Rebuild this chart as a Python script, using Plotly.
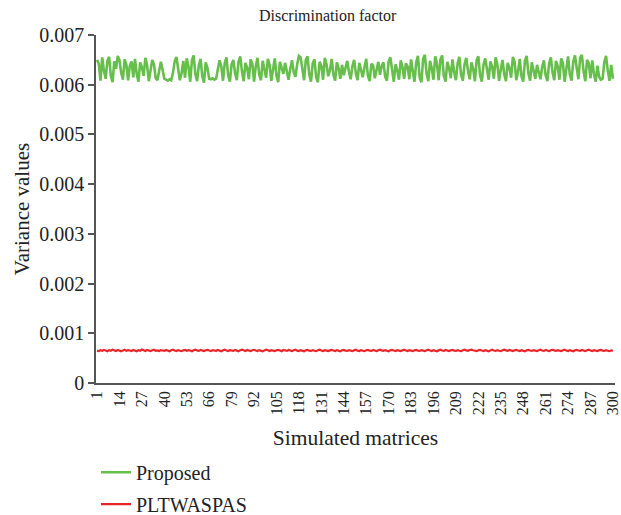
import plotly.graph_objects as go

title_text = "Discrimination factor"
x_title = "Simulated matrices"
y_title = "Variance values"
series_names = ["Proposed", "PLTWASPAS"]

matrices = list(range(1, 301))
x_tick_labels = list(range(1, 301, 13))
y_tick_values = [0, 0.001, 0.002, 0.003, 0.004, 0.005, 0.006, 0.007]

proposed = [
    0.00650,0.00642,0.00608,0.00655,0.00628,0.00612,0.00648,0.00656,0.00618,0.00605,0.00647,0.00632,0.00658,0.00649,0.00624,0.00610,0.00651,0.00640,0.00609,0.00638,
    0.00647,0.00615,0.00652,0.00622,0.00606,0.00645,0.00635,0.00618,0.00654,0.00639,0.00607,0.00628,0.00650,0.00641,0.00613,0.00609,0.00625,0.00646,0.00630,0.00612,
    0.00610,0.00608,0.00611,0.00609,0.00624,0.00647,0.00656,0.00630,0.00609,0.00623,0.00648,0.00614,0.00653,0.00636,0.00606,0.00649,0.00659,0.00621,0.00607,0.00639,
    0.00652,0.00617,0.00604,0.00645,0.00633,0.00612,0.00611,0.00613,0.00610,0.00612,0.00628,0.00649,0.00637,0.00608,0.00643,0.00655,0.00619,0.00606,0.00641,0.00650,
    0.00623,0.00609,0.00646,0.00657,0.00627,0.00607,0.00644,0.00634,0.00611,0.00651,0.00642,0.00606,0.00637,0.00654,0.00620,0.00609,0.00648,0.00631,0.00614,0.00652,
    0.00640,0.00608,0.00629,0.00653,0.00618,0.00605,0.00646,0.00636,0.00622,0.00644,0.00627,0.00610,0.00632,0.00649,0.00625,0.00616,0.00641,0.00658,0.00655,0.00630,
    0.00609,0.00650,0.00657,0.00621,0.00606,0.00643,0.00651,0.00615,0.00605,0.00646,0.00638,0.00610,0.00654,0.00641,0.00617,0.00629,0.00652,0.00620,0.00608,0.00645,
    0.00633,0.00612,0.00640,0.00619,0.00631,0.00648,0.00626,0.00611,0.00637,0.00650,0.00623,0.00609,0.00644,0.00628,0.00615,0.00635,0.00652,0.00618,0.00607,0.00642,
    0.00639,0.00613,0.00631,0.00646,0.00620,0.00638,0.00645,0.00616,0.00608,0.00647,0.00655,0.00624,0.00606,0.00641,0.00629,0.00610,0.00649,0.00636,0.00612,0.00643,
    0.00637,0.00611,0.00651,0.00627,0.00606,0.00645,0.00658,0.00614,0.00605,0.00652,0.00660,0.00622,0.00607,0.00648,0.00633,0.00610,0.00657,0.00642,0.00609,0.00650,
    0.00659,0.00618,0.00606,0.00646,0.00634,0.00613,0.00651,0.00625,0.00609,0.00643,0.00656,0.00620,0.00608,0.00641,0.00654,0.00628,0.00611,0.00645,0.00632,0.00607,
    0.00649,0.00657,0.00619,0.00606,0.00640,0.00653,0.00626,0.00610,0.00647,0.00636,0.00612,0.00655,0.00641,0.00608,0.00630,0.00650,0.00621,0.00607,0.00644,0.00634,
    0.00614,0.00656,0.00646,0.00609,0.00627,0.00652,0.00617,0.00606,0.00648,0.00658,0.00623,0.00608,0.00645,0.00631,0.00612,0.00640,0.00628,0.00611,0.00636,0.00649,
    0.00619,0.00607,0.00642,0.00655,0.00625,0.00609,0.00648,0.00637,0.00610,0.00653,0.00644,0.00606,0.00632,0.00657,0.00621,0.00608,0.00646,0.00659,0.00634,0.00611,
    0.00654,0.00660,0.00627,0.00607,0.00650,0.00643,0.00613,0.00649,0.00622,0.00606,0.00638,0.00616,0.00610,0.00612,0.00645,0.00658,0.00629,0.00608,0.00640,0.00612,
]

pltwaspas = [
    0.000652,0.000641,0.000660,0.000648,0.000667,0.000655,0.000640,0.000662,0.000650,0.000671,0.000658,0.000643,0.000664,0.000651,0.000638,0.000656,0.000669,0.000647,0.000660,0.000653,
    0.000644,0.000666,0.000657,0.000639,0.000661,0.000650,0.000672,0.000659,0.000645,0.000663,0.000652,0.000641,0.000658,0.000668,0.000649,0.000656,0.000642,0.000661,0.000654,0.000646,
    0.000665,0.000651,0.000638,0.000659,0.000670,0.000655,0.000644,0.000662,0.000650,0.000640,0.000657,0.000666,0.000648,0.000661,0.000653,0.000639,0.000660,0.000671,0.000656,0.000645,
    0.000663,0.000650,0.000642,0.000658,0.000667,0.000652,0.000641,0.000662,0.000655,0.000647,0.000664,0.000651,0.000639,0.000657,0.000669,0.000654,0.000643,0.000660,0.000652,0.000646,
    0.000666,0.000655,0.000640,0.000661,0.000672,0.000658,0.000645,0.000663,0.000650,0.000641,0.000659,0.000668,0.000653,0.000644,0.000662,0.000651,0.000638,0.000656,0.000670,0.000657,
    0.000644,0.000661,0.000650,0.000642,0.000658,0.000667,0.000654,0.000640,0.000663,0.000652,0.000646,0.000664,0.000656,0.000641,0.000659,0.000669,0.000650,0.000643,0.000661,0.000653,
    0.000639,0.000657,0.000666,0.000651,0.000645,0.000662,0.000655,0.000640,0.000658,0.000670,0.000653,0.000644,0.000660,0.000649,0.000641,0.000656,0.000667,0.000654,0.000642,0.000661,
    0.000650,0.000638,0.000659,0.000664,0.000652,0.000645,0.000661,0.000655,0.000641,0.000657,0.000668,0.000651,0.000643,0.000662,0.000653,0.000640,0.000658,0.000666,0.000650,0.000646,
    0.000663,0.000654,0.000641,0.000660,0.000671,0.000656,0.000645,0.000662,0.000651,0.000639,0.000658,0.000667,0.000653,0.000644,0.000661,0.000650,0.000642,0.000657,0.000669,0.000655,
    0.000643,0.000660,0.000652,0.000640,0.000659,0.000666,0.000649,0.000645,0.000662,0.000654,0.000641,0.000658,0.000670,0.000655,0.000644,0.000661,0.000651,0.000639,0.000656,0.000668,
    0.000653,0.000646,0.000663,0.000650,0.000642,0.000659,0.000667,0.000652,0.000645,0.000661,0.000655,0.000640,0.000658,0.000669,0.000656,0.000647,0.000664,0.000672,0.000660,0.000650,
    0.000641,0.000657,0.000666,0.000653,0.000644,0.000662,0.000650,0.000638,0.000656,0.000668,0.000654,0.000645,0.000661,0.000651,0.000640,0.000659,0.000670,0.000657,0.000646,0.000663,
    0.000652,0.000642,0.000658,0.000667,0.000655,0.000644,0.000661,0.000650,0.000639,0.000657,0.000666,0.000653,0.000645,0.000662,0.000651,0.000641,0.000658,0.000669,0.000654,0.000646,
    0.000663,0.000650,0.000640,0.000659,0.000668,0.000656,0.000645,0.000661,0.000652,0.000643,0.000660,0.000671,0.000655,0.000644,0.000662,0.000650,0.000639,0.000657,0.000666,0.000653,
    0.000646,0.000663,0.000651,0.000641,0.000658,0.000669,0.000655,0.000644,0.000661,0.000650,0.000642,0.000659,0.000667,0.000652,0.000645,0.000662,0.000654,0.000640,0.000657,0.000648,
]

FONT = "Liberation Serif, Times New Roman, serif"
GREEN = "#66bf4b"
RED = "#e8262a"
AXIS = "#555555"

fig = go.Figure()
fig.add_trace(go.Scatter(x=matrices, y=proposed, mode="lines", name=series_names[0],
                         line=dict(color=GREEN, width=2.6), legendgroup="a"))
fig.add_trace(go.Scatter(x=matrices, y=pltwaspas, mode="lines", name=series_names[1],
                         line=dict(color=RED, width=2.2), legendgroup="b"))

fig.update_layout(
    width=621, height=515,
    margin=dict(l=96, r=6, t=35, b=132, autoexpand=False),
    paper_bgcolor="white", plot_bgcolor="white",
    font=dict(family=FONT, color="#222222", size=19),
    showlegend=True,
    legend=dict(x=0.0, y=0.121, xref="paper", yref="container",
                xanchor="left", yanchor="top",
                orientation="v", font=dict(size=20, family=FONT),
                tracegroupgap=3, bgcolor="rgba(0,0,0,0)"),
    annotations=[dict(text=title_text, x=0.447, y=1.0, xref="paper", yref="paper",
                      yanchor="middle", yshift=20, showarrow=False,
                      font=dict(size=16, family=FONT))],
)

fig.update_xaxes(
    range=[0.4, 301.2], tickmode="array", tickvals=x_tick_labels,
    ticktext=[str(v) for v in x_tick_labels], tickangle=-90,
    tickfont=dict(size=16, family=FONT), ticks="", automargin=False,
    ticklabeloverflow="allow",
    showgrid=False, zeroline=False, showline=True, linecolor=AXIS, linewidth=1.5,
    title=dict(text=x_title, font=dict(size=21.5, family=FONT), standoff=16),
)
fig.update_yaxes(
    range=[0, 0.007], tickmode="array", tickvals=y_tick_values,
    ticktext=[f"{v:.3f}" if v else "0" for v in y_tick_values],
    tickfont=dict(size=20, family=FONT), ticks="outside", ticklen=6,
    tickcolor=AXIS, tickwidth=1.5, automargin=False,
    showgrid=False, zeroline=False, showline=True, linecolor=AXIS, linewidth=1.5,
    title=dict(text=y_title, font=dict(size=21, family=FONT), standoff=4),
)

fig.write_html("out.html")
